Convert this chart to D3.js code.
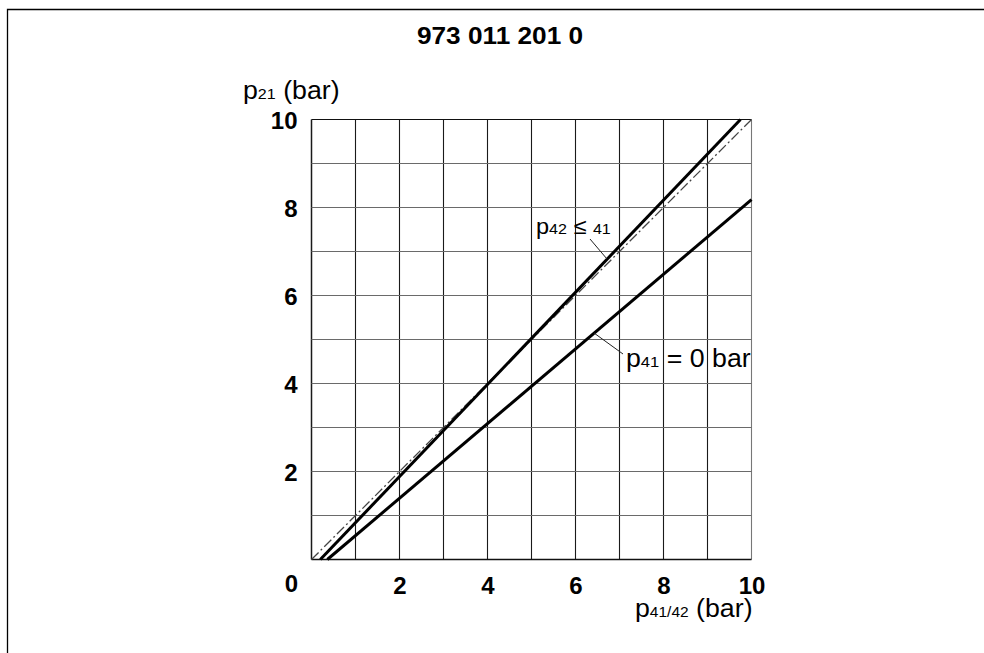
<!DOCTYPE html>
<html>
<head>
<meta charset="utf-8">
<script src="https://cdn.jsdelivr.net/npm/d3@7"></script>
<style>
  html, body { margin: 0; padding: 0; background: #fff; }
  svg { display: block; font-family: "Liberation Sans", Arial, sans-serif; }
</style>
</head>
<body>
<svg id="chart" width="984" height="653"></svg>
<script>
// Chart data
const title = "973 011 201 0";
const xTickValues = [2, 4, 6, 8, 10];
const yTickValues = [2, 4, 6, 8, 10];
const gridValues = [0, 1, 2, 3, 4, 5, 6, 7, 8, 9, 10];
// p21 output pressure vs p41/42 control pressure (bar)
const curveEqual = [[0.2, 0], [9.75, 10]];      // p42 ≤ p41
const curveP41Zero = [[0.36, 0], [10, 8.18]];   // p41 = 0 bar
const referenceLine = [[0, 0], [10, 10]];       // dash-dot reference

const svg = d3.select("#chart");
const STRETCH = 1.07;

// outer frame (top and left edges)
svg.append("path")
  .attr("d", "M7.5,653 L7.5,9.5 L984,9.5")
  .attr("fill", "none").attr("stroke", "#000").attr("stroke-width", 1.3);

const x = d3.scaleLinear().domain([0, 10]).range([311.5, 751.5]);
const y = d3.scaleLinear().domain([0, 10]).range([559.5, 119.5]);

// grid: vertical lines dark, horizontal lines grey
const grid = svg.append("g");
grid.selectAll("line.v").data(gridValues).join("line")
  .attr("class", "v")
  .attr("x1", d => x(d)).attr("x2", d => x(d))
  .attr("y1", y(0)).attr("y2", y(10))
  .attr("stroke", d => d === 10 ? "#777" : "#1a1a1a")
  .attr("stroke-width", d => d === 0 ? 1.5 : 1.1);
grid.selectAll("line.h").data(gridValues).join("line")
  .attr("class", "h")
  .attr("x1", x(0)).attr("x2", x(10))
  .attr("y1", d => y(d)).attr("y2", d => y(d))
  .attr("stroke", d => (d === 0 || d === 10) ? "#111" : "#6a6a6a")
  .attr("stroke-width", d => d === 0 ? 1.5 : 1.1);

// axes: bold tick numbers only
const fmt = d3.format("d");
const yAxis = svg.append("g")
  .attr("transform", `translate(${x(0)},0)`)
  .call(d3.axisLeft(y).tickValues(yTickValues).tickSize(0).tickPadding(14).tickFormat(fmt));
const xAxis = svg.append("g")
  .attr("transform", `translate(0,${y(0)})`)
  .call(d3.axisBottom(x).tickValues(xTickValues).tickSize(0).tickPadding(17).tickFormat(fmt));
[yAxis, xAxis].forEach(a => {
  a.select(".domain").remove();
  a.selectAll("text")
    .attr("font-family", "Liberation Sans, Arial, sans-serif")
    .attr("font-size", 24).attr("font-weight", "bold").attr("fill", "#000");
});
yAxis.selectAll("text").attr("dy", "0.36em");
xAxis.selectAll("text").attr("dy", "0.71em");
// shared origin label
svg.append("text")
  .attr("x", x(0) - 20).attr("y", 592)
  .attr("text-anchor", "middle")
  .attr("font-size", 24).attr("font-weight", "bold").text("0");

// curves
const line = d3.line().x(d => x(d[0])).y(d => y(d[1]));
svg.append("path").datum(referenceLine)
  .attr("d", line).attr("fill", "none")
  .attr("stroke", "#444").attr("stroke-width", 1.3)
  .attr("stroke-dasharray", "10,3,2,3");
svg.append("path").datum(curveEqual)
  .attr("d", line).attr("fill", "none")
  .attr("stroke", "#000").attr("stroke-width", 3);
svg.append("path").datum(curveP41Zero)
  .attr("d", line).attr("fill", "none")
  .attr("stroke", "#000").attr("stroke-width", 3);

// text with subscripts, slightly widened
function richText(px, py, parts, anchor, weight) {
  const t = svg.append("text")
    .attr("transform", `translate(${px},${py}) scale(${STRETCH},1)`)
    .attr("text-anchor", anchor || "start")
    .attr("font-weight", weight || "normal")
    .attr("fill", "#000");
  parts.forEach(p => t.append("tspan").attr("font-size", p[1]).text(p[0]));
  return t;
}

richText(500, 44, [[title, 24.5]], "middle", "bold");
richText(243, 99, [["p", 25], ["21", 15], [" (bar)", 25]]);
richText(635, 617, [["p", 25], ["41/42", 14.5], [" (bar)", 25]]);
richText(536, 234, [["p", 22], ["42", 15], [" ≤ ", 22], ["41", 15]]);
richText(626, 367, [["p", 25], ["41", 15.5], [" = 0 bar", 25]]);

// leader lines for the curve labels
const leaders = [
  [[590, 239], [607, 259]],
  [[594, 333], [623, 354]]
];
svg.selectAll("line.leader").data(leaders).join("line")
  .attr("class", "leader")
  .attr("x1", d => d[0][0]).attr("y1", d => d[0][1])
  .attr("x2", d => d[1][0]).attr("y2", d => d[1][1])
  .attr("stroke", "#222").attr("stroke-width", 1);
</script>
</body>
</html>
